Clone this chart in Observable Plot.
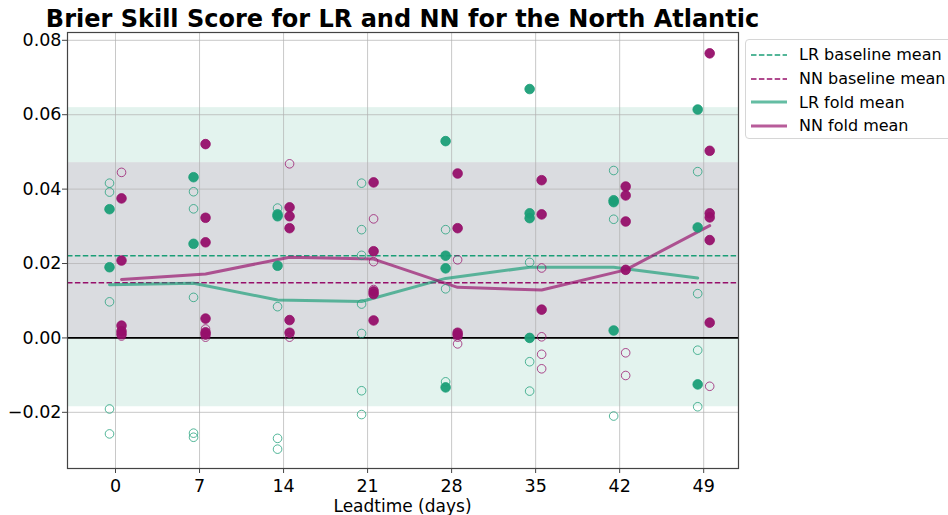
<!DOCTYPE html>
<html>
<head>
<meta charset="utf-8">
<script src="https://cdn.jsdelivr.net/npm/d3@7"></script>
<script src="https://cdn.jsdelivr.net/npm/@observablehq/plot@0.6"></script>
<style>
  body { margin: 0; background: #fff; font-family: "DejaVu Sans", sans-serif; }
  #fig { position: relative; width: 948px; height: 515px; overflow: hidden; }
  #title { position: absolute; left: 17px; width: 771px; top: 6px; text-align: center;
           font-weight: bold; font-size: 24px; line-height: 26px; white-space: nowrap; color: #000; }
  #xlabel { position: absolute; left: 67px; width: 671px; top: 498px; text-align: center;
            font-size: 17px; line-height: 16px; white-space: nowrap; color: #000; }
  #chart { position: absolute; left: 0; top: 0; }
  #legend { position: absolute; left: 745px; top: 39px; width: 215px; height: 100px;
            border: 1px solid #d6d6d6; border-radius: 4px; background: rgba(255,255,255,0.85);
            box-sizing: border-box; padding-top: 3px; }
  #legend .row { display: flex; align-items: center; height: 23.7px; font-size: 16px; color: #000; }
  #legend svg { margin-left: 5px; margin-right: 12px; }
</style>
</head>
<body>
<div id="fig">
  <div id="chart"></div>
  <div id="title">Brier Skill Score for LR and NN for the North Atlantic</div>
  <div id="xlabel">Leadtime (days)</div>
  <div id="legend"></div>
</div>
<script>
// Lead times (days) on the x axis
const leadtimes = [0, 7, 14, 21, 28, 35, 42, 49];
const yTicks = [-0.02, 0, 0.02, 0.04, 0.06, 0.08];

// Per-fold Brier skill scores, one list per lead time
const lrFold = [
  [0.0346, 0.0190],
  [0.0432, 0.0253],
  [0.0332, 0.0327, 0.0194],
  [],
  [0.0529, 0.0221, 0.0187, -0.0133],
  [0.0669, 0.0335, 0.0322, 0.0000],
  [0.0370, 0.0365, 0.0020],
  [0.0614, 0.0297, -0.0125]
];
const lrBaseline = [
  [0.0416, 0.0392, 0.0097, -0.0191, -0.0258],
  [0.0393, 0.0347, 0.0109, -0.0256, -0.0267],
  [0.0349, 0.0084, -0.0270, -0.0299],
  [0.0416, 0.0291, 0.0222, 0.0091, 0.0012, -0.0142, -0.0206],
  [0.0291, 0.0132, -0.0118],
  [0.0203, -0.0064, -0.0143],
  [0.0450, 0.0319, -0.0210],
  [0.0447, 0.0119, -0.0033, -0.0185]
];
const nnFold = [
  [0.0375, 0.0208, 0.0033, 0.0018, 0.0010],
  [0.0521, 0.0323, 0.0257, 0.0052, 0.0015, 0.0009],
  [0.0351, 0.0327, 0.0295, 0.0048, 0.0014],
  [0.0418, 0.0233, 0.0125, 0.0118, 0.0047],
  [0.0442, 0.0295, 0.0014, 0.0008],
  [0.0424, 0.0332, 0.0076],
  [0.0407, 0.0383, 0.0313, 0.0183],
  [0.0765, 0.0503, 0.0335, 0.0324, 0.0263, 0.0041]
];
const nnBaseline = [
  [0.0445, 0.0005],
  [0.0024, 0.0002],
  [0.0468, 0.0002],
  [0.0320, 0.0205, 0.0130],
  [0.0210, 0.0002, -0.0016],
  [0.0188, 0.0003, -0.0044, -0.0083],
  [-0.0040, -0.0101],
  [-0.0130]
];

// Mean over folds at each lead time
const lrFoldMean = [0.0143, 0.0147, 0.0102, 0.0098, 0.0160, 0.0190, 0.0190, 0.0161];
const nnFoldMean = [0.0157, 0.0172, 0.0217, 0.0212, 0.0136, 0.0129, 0.0183, 0.0302];

// Baseline means and spread bands
const lrBaselineMean = 0.0221;
const nnBaselineMean = 0.0148;
const lrBand = [-0.0185, 0.0619];
const nnBand = [0.0, 0.0471];

const LR = "#1b9e77";
const NN = "#960f6a";
const offset = {LR: -0.5, NN: 0.5};

function rows(model, kind, lists) {
  const out = [];
  lists.forEach((vals, i) => vals.forEach(v => out.push({model, kind, lead: leadtimes[i], value: v})));
  return out;
}
const openPts = [...rows("LR", "baseline", lrBaseline), ...rows("NN", "baseline", nnBaseline)];
const fillPts = [...rows("LR", "fold", lrFold), ...rows("NN", "fold", nnFold)];
const meanRows = [
  ...lrFoldMean.map((v, i) => ({model: "LR", lead: leadtimes[i], value: v})),
  ...nnFoldMean.map((v, i) => ({model: "NN", lead: leadtimes[i], value: v}))
];
const color = m => (m === "LR" ? LR : NN);
const xOf = d => d.lead + offset[d.model];

const chart = Plot.plot({
  width: 948,
  height: 515,
  marginTop: 32,
  marginBottom: 47,
  marginLeft: 67,
  marginRight: 210,
  style: {fontFamily: "DejaVu Sans, sans-serif", fontSize: "17.5px", color: "#000", background: "transparent"},
  x: {domain: [-4, 51.9]},
  y: {domain: [-0.0351, 0.0821]},
  marks: [
    Plot.rect([lrBand], {y1: d => d[0], y2: d => d[1], fill: LR, fillOpacity: 0.12}),
    Plot.rect([nnBand], {y1: d => d[0], y2: d => d[1], fill: NN, fillOpacity: 0.1}),
    Plot.ruleX(leadtimes, {stroke: "#b0b0b0", strokeOpacity: 0.7, strokeWidth: 1}),
    Plot.ruleY(yTicks, {stroke: "#b0b0b0", strokeOpacity: 0.7, strokeWidth: 1}),
    Plot.ruleY([0], {stroke: "#000", strokeWidth: 1.6}),
    Plot.ruleY([lrBaselineMean], {stroke: LR, strokeWidth: 1.5, strokeDasharray: "5.5,2.4"}),
    Plot.ruleY([nnBaselineMean], {stroke: NN, strokeWidth: 1.5, strokeDasharray: "5.5,2.4"}),
    Plot.line(meanRows, {x: xOf, y: "value", z: "model", stroke: d => color(d.model), strokeWidth: 3, strokeOpacity: 0.68}),
    Plot.dot(openPts, {x: xOf, y: "value", r: 4.3, fill: "none", stroke: d => color(d.model), strokeWidth: 1, strokeOpacity: 0.75}),
    Plot.dot(fillPts, {x: xOf, y: "value", r: 4.8, fill: d => color(d.model), fillOpacity: 0.95, stroke: d => color(d.model), strokeWidth: 0.8}),
    Plot.frame({stroke: "#444", strokeWidth: 1.2}),
    Plot.axisX(leadtimes, {tickSize: 5, tickPadding: 6.5, fontSize: 17.5, label: null, stroke: "#444"}),
    Plot.axisY(yTicks, {tickSize: 5, tickPadding: 1, fontSize: 17.5, tickFormat: d3.format(".2f"), label: null, stroke: "#444"})
  ]
});
document.getElementById("chart").appendChild(chart);

// Legend
const legendItems = [
  {label: "LR baseline mean", stroke: LR, dash: "5.5,2.4", width: 1.5, opacity: 1},
  {label: "NN baseline mean", stroke: NN, dash: "5.5,2.4", width: 1.5, opacity: 1},
  {label: "LR fold mean", stroke: LR, dash: null, width: 3, opacity: 0.68},
  {label: "NN fold mean", stroke: NN, dash: null, width: 3, opacity: 0.68}
];
const legend = document.getElementById("legend");
for (const item of legendItems) {
  const row = document.createElement("div");
  row.className = "row";
  row.innerHTML = `<svg width="36" height="10"><line x1="0" x2="36" y1="5" y2="5" stroke="${item.stroke}" stroke-width="${item.width}" stroke-opacity="${item.opacity}" ${item.dash ? `stroke-dasharray="${item.dash}"` : ""}/></svg><span>${item.label}</span>`;
  legend.appendChild(row);
}
</script>
</body>
</html>
